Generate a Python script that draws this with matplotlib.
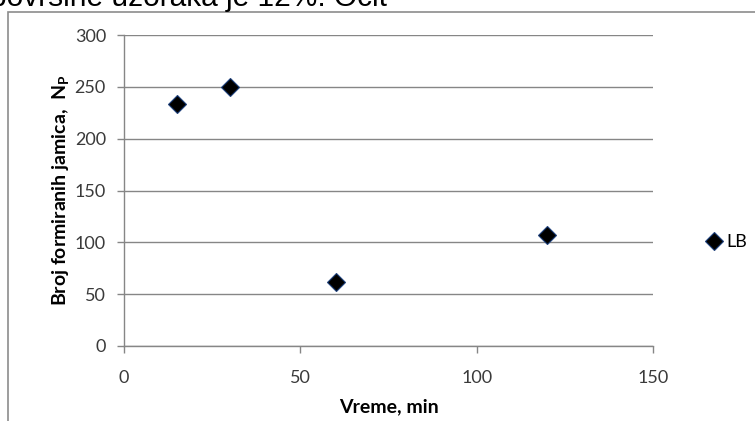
import matplotlib
matplotlib.use("Agg")
import matplotlib.pyplot as plt
from matplotlib.patches import Rectangle

# data
vreme = [15, 30, 60, 120]
broj_jamica = [233, 250, 62, 107]
serija = "LB"
x_ticks = [0, 50, 100, 150]
y_ticks = [0, 50, 100, 150, 200, 250, 300]

W, H = 755, 421
fig = plt.figure(figsize=(W / 100, H / 100), dpi=100)

# text of the surrounding document, cut off at the top like in the screenshot
fig.text(-10 / W, 1 - 6 / H, "površine uzoraka je 12%. Očit", fontsize=21.5,
         family="Liberation Sans", va="baseline", ha="left", color="black")

# chart frame (continues past the right and bottom edges)
fig.patches.append(Rectangle((8 / W, -0.1), 1.2, 1 - 12 / H + 0.1,
                             transform=fig.transFigure, fill=False,
                             edgecolor="#8c8c8c", linewidth=1.2))

ax = fig.add_axes([124 / W, 75 / H, 529 / W, 311 / H])
grid_c = "#868686"
fs = 13

ax.plot(vreme, broj_jamica, linestyle="none", marker="D", markersize=9.5,
        markerfacecolor="black", markeredgecolor="#1c3f7a",
        markeredgewidth=0.8, label=serija, clip_on=False, zorder=3)

ax.set_xlim(0, 150)
ax.set_ylim(0, 300)
ax.set_xticks(x_ticks)
ax.set_yticks(y_ticks)
ax.yaxis.grid(True, color=grid_c, linewidth=1)
ax.set_axisbelow(True)

for s in ["top", "right"]:
    ax.spines[s].set_visible(False)
for s in ["left", "bottom"]:
    ax.spines[s].set_color(grid_c)
    ax.spines[s].set_linewidth(1)

ax.tick_params(axis="both", direction="out", length=5, width=1, color=grid_c,
               labelsize=fs, labelcolor="#3a3a3a")
ax.tick_params(axis="y", pad=8)
ax.tick_params(axis="x", pad=12)
for lab in ax.get_xticklabels() + ax.get_yticklabels():
    lab.set_family("Lato")

ax.set_xlabel("Vreme, min", fontsize=14, fontweight="bold", family="Lato",
              labelpad=9)
ax.set_ylabel("Broj formiranih jamica,  N$_\\mathregular{P}$", fontsize=14,
              fontweight="bold", family="Lato", labelpad=2)

ax.legend(loc="center left", bbox_to_anchor=(1.07, 0.334), frameon=False,
          handlelength=0.8, handletextpad=0.3,
          prop={"family": "Lato", "size": fs})

fig.savefig("out.png", dpi=100)
